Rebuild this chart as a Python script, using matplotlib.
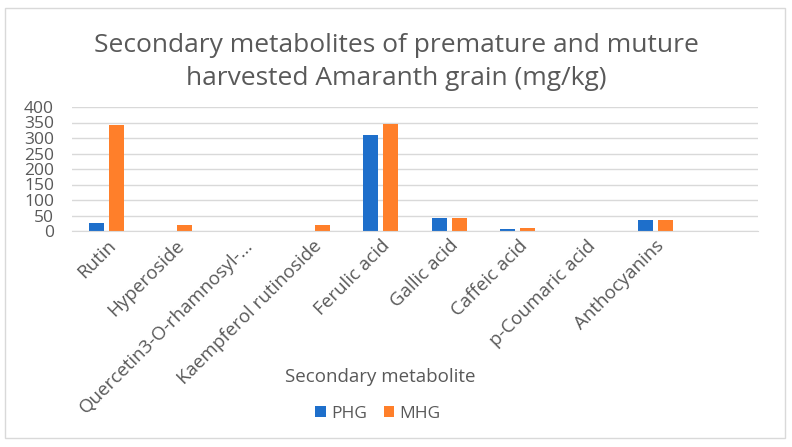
import numpy as np
import matplotlib
matplotlib.use('Agg')
import matplotlib.pyplot as plt
from matplotlib.patches import Rectangle

plt.rcParams['font.family'] = ['Open Sans', 'DejaVu Sans']

# 数据
categories = ['Rutin', 'Hyperoside', 'Quercetin3-O-rhamnosyl-...',
              'Kaempferol rutinoside', 'Ferulic acid', 'Gallic acid',
              'Caffeic acid', 'p-Coumaric acid', 'Anthocyanins', '']
phg = [26, 0, 0, 0, 309, 41, 6, 0, 34, 0]
mhg = [341, 18, 0, 19, 344, 43, 9, 0, 35, 0]
yticks = [0, 50, 100, 150, 200, 250, 300, 350, 400]

BLUE = '#1E6FCB'
ORANGE = '#FF7F2A'
GRAY = '#595959'

fig = plt.figure(figsize=(7.92, 4.47), dpi=100)
fig.patches.append(Rectangle((5/792, 1-438/447), 780/792, 430/447,
                             transform=fig.transFigure, fill=False,
                             edgecolor='#D9D9D9', linewidth=1))

ax = fig.add_axes([72/792, 1-231/447, 686/792, 124/447])
x = np.arange(len(categories))
w = 0.218
ax.bar(x - 0.145, phg, width=w, color=BLUE, label='PHG')
ax.bar(x + 0.145, mhg, width=w, color=ORANGE, label='MHG')

ax.set_xlim(-0.5, len(categories) - 0.5)
ax.set_ylim(0, 400)
ax.set_yticks(yticks)
ax.yaxis.grid(True, color='#D9D9D9', linewidth=1)
ax.set_axisbelow(True)
for s in ['top', 'right', 'left']:
    ax.spines[s].set_visible(False)
ax.spines['bottom'].set_color('#D9D9D9')
ax.tick_params(axis='both', length=0, labelcolor=GRAY)
ax.tick_params(axis='y', pad=13, labelsize=12.5)
ax.set_xticks(x)
ax.set_xticklabels(categories, rotation=45, ha='right', rotation_mode='anchor', fontsize=13.5)
ax.tick_params(axis='x', pad=4)

fig.text(0.5, 1-62/447, 'Secondary metabolites of premature and muture\nharvested Amaranth grain (mg/kg)',
         ha='center', va='center', fontsize=19, color=GRAY, linespacing=1.45)
fig.text(380/792, 1-377/447, 'Secondary metabolite', ha='center', va='center',
         fontsize=13.5, color=GRAY)

fig.legend(loc='center', bbox_to_anchor=(378/792, 1-414/447), ncol=2, frameon=False,
           fontsize=12.5, labelcolor=GRAY, handlelength=0.6, handleheight=0.6,
           handletextpad=0.3, columnspacing=1.0)

plt.savefig('out.png', dpi=100)
